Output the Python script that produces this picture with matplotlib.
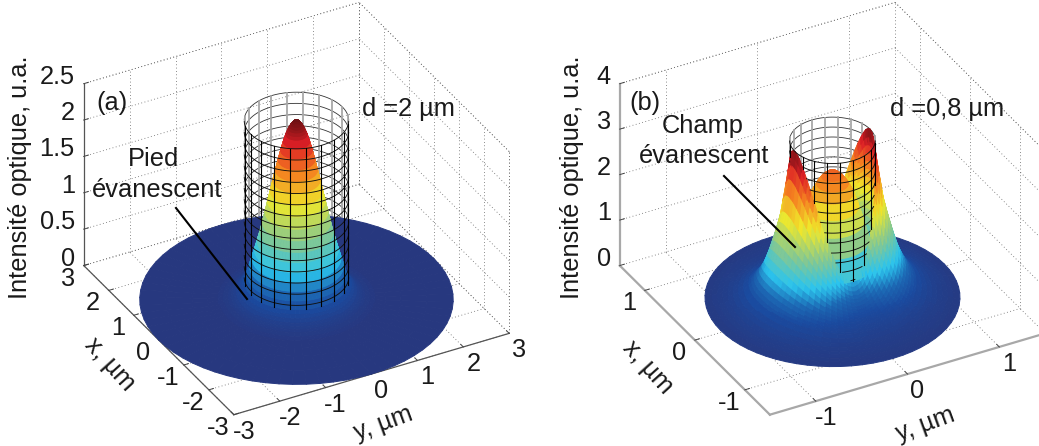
import numpy as np
import matplotlib
matplotlib.use('Agg')
import matplotlib.pyplot as plt
from matplotlib.colors import LinearSegmentedColormap
from matplotlib.lines import Line2D
from mpl_toolkits.mplot3d import proj3d

plt.rcParams['font.family'] = ['Liberation Sans', 'DejaVu Sans']

W, H = 1039, 446

# panel (a): radial profile
r_a = [0, .025, .05, .075, .1, .125, .15, .175, .2, .25, .3, .35, .4, .45, .5, .55, .6, .65, .7, .75, .8, .85, .9, .95, 1.0,
       1.05, 1.1, 1.15, 1.2, 1.25, 1.3, 1.4, 1.5, 1.7, 2.0, 2.5, 3.0]
z_a = [2.46, 2.457, 2.45, 2.43, 2.41, 2.38, 2.35, 2.31, 2.27, 2.17, 2.05, 1.92, 1.78, 1.64, 1.49, 1.35, 1.20, 1.06, .92, .80, .68, .57, .46, .35, .25,
       .20, .16, .12, .09, .07, .05, .03, .015, 0, 0, 0, 0]
x_ticks_a = [-3, -2, -1, 0, 1, 2, 3]
y_ticks_a = [-3, -2, -1, 0, 1, 2, 3]
z_ticks_a = [0, .5, 1, 1.5, 2, 2.5]
z_labels_a = ['0', '0.5', '1', '1.5', '2', '2.5']

# panel (b): inside the guide, then the outer field along its ridge and its valley
r_in = [0, .05, .1, .15, .2, .25, .3, .35, .41]
z_in = [2.82, 2.79, 2.70, 2.55, 2.35, 2.05, 1.72, 1.32, .85]
r_out = [.41, .43, .45, .475, .5, .525, .55, .575, .6, .625, .65, .675, .7, .725, .75, .775, .8,
         .85, .9, .95, 1.0, 1.05, 1.1, 1.15, 1.22]
z_ridge = [3.5, 3.2, 2.9, 2.55, 2.2, 1.97, 1.75, 1.55, 1.35, 1.17, 1.0, .87, .75, .65, .55, .48, .42,
           .32, .25, .2, .16, .13, .1, .08, .05]
z_valley = [.85, .76, .68, .61, .55, .5, .45, .41, .37, .34, .31, .28, .26, .24, .22, .2, .19,
            .16, .13, .11, .09, .08, .07, .05, .04]
# share of the ridge height, every 5 degrees from the x axis to the y axis
lobe = [0, .01, .03, .07, .12, .18, .25, .33, .41, .5, .59, .67, .75, .82, .88, .93, .97, .99, 1]
x_ticks_b = [-1, 0, 1]
y_ticks_b = [-1, 0, 1]
z_ticks_b = [0, 1, 2, 3, 4]
z_labels_b = ['0', '1', '2', '3', '4']

cmap_pos = [0, .1, .18, .27, .42, .6, .76, .9, 1]
cmap_col = ['#27387f', '#1a4a9f', '#1c6ab5', '#2bc4ee', '#86c890', '#f0e92b', '#f58220', '#dd1f26', '#6f1114']
jet_print = LinearSegmentedColormap.from_list('jet_print', list(zip(cmap_pos, cmap_col)))


def make_axes(cx, cy, lim, zmax):
    side = 479
    ax = fig.add_axes([(cx - side / 2) / W, (H - cy - side / 2) / H, side / W, side / H],
                      projection='3d', proj_type='ortho')
    ax.patch.set_alpha(0)
    ax.set_axis_off()
    ax.computed_zorder = False
    ax.autoscale(False)
    ax.set_xlim(lim, -lim)
    ax.set_ylim(-lim, lim)
    ax.set_zlim(0, zmax)
    ax.set_box_aspect((1, 1, .69))
    ax.view_init(elev=32.8, azim=-28.6, roll=0)
    return ax


def put(ax, x, y, z, txt, dx, dy, ha='center'):
    px, py, _ = proj3d.proj_transform(x, y, z, ax.get_proj())
    ax.annotate(txt, (px, py), xytext=(dx, dy), textcoords='offset pixels', ha=ha, va='center',
                annotation_clip=False, fontsize=18.3, color='#1a1a1a')


def draw_box(ax, lim, zmax, xt, yt, zt, zl, axis_col, axis_lw):
    dot = dict(color='#666666', lw=.6, ls=(0, (1, 3)), zorder=1)
    for x in xt:
        ax.plot([x, x], [-lim, lim], [0, 0], **dot)
        ax.plot([x, x], [lim, lim], [0, zmax], **dot)
    for y in yt:
        ax.plot([-lim, lim], [y, y], [0, 0], **dot)
        ax.plot([lim, lim], [y, y], [0, zmax], **dot)
    for z in zt:
        ax.plot([lim, lim], [-lim, lim], [z, z], **dot)
        ax.plot([-lim, lim], [lim, lim], [z, z], **dot)
    ax.plot([lim, lim], [lim, lim], [0, zmax], **dot)
    ax.plot([-lim, -lim], [lim, lim], [0, zmax], **dot)
    ax.plot([lim, lim], [-lim, lim], [zmax, zmax], **dot)
    ax.plot([-lim, lim], [lim, lim], [zmax, zmax], **dot)

    solid = dict(color=axis_col, lw=axis_lw, zorder=1.5)
    ax.plot([lim, lim], [-lim, -lim], [0, zmax], **solid)
    ax.plot([-lim, lim], [-lim, -lim], [0, 0], **solid)
    ax.plot([-lim, -lim], [-lim, lim], [0, 0], **solid)
    tick = lim / 30
    thin = dict(color='#444444', lw=.7, zorder=1.5)
    for x in xt:
        ax.plot([x, x], [-lim, -lim + tick], [0, 0], **thin)
        put(ax, x, -lim, 0, str(x), -16, -13)
    for y in yt:
        ax.plot([-lim, -lim + tick], [y, y], [0, 0], **thin)
        put(ax, -lim, y, 0, str(y), 10, -17)
    for z, lab in zip(zt, zl):
        ax.plot([lim, lim], [-lim, -lim + tick], [z, z], **thin)
        put(ax, lim, -lim, z, lab, -9, 7, ha='right')


def draw_surface(ax, X, Y, Z, zmax):
    zm = (Z[:-1, :-1] + Z[1:, :-1] + Z[:-1, 1:] + Z[1:, 1:]) / 4
    ax.plot_surface(X, Y, Z, rstride=1, cstride=1, facecolors=jet_print(zm / zmax), shade=False,
                    linewidth=.7, antialiased=True, zorder=3)


def draw_cage(ax, radius, top, floor_of):
    # floor_of gives the height of the surface on the cage wall, per angle
    phi = np.radians(np.arange(0, 361, 3))
    back_dir = np.array([.88, .47])
    seen_back = np.cos(phi) * back_dir[0] + np.sin(phi) * back_dir[1] >= 0
    floor = floor_of(phi)
    for z in np.linspace(0, top, 17):
        zz = np.where(z >= floor - .01, z, np.nan)
        ax.plot(radius * np.cos(phi), radius * np.sin(phi), np.where(seen_back, zz, np.nan),
                color='#333333', lw=.6, zorder=2)
        ax.plot(radius * np.cos(phi), radius * np.sin(phi), np.where(seen_back, np.nan, zz),
                color='#111111', lw=.65, zorder=4)
    for deg in np.arange(0, 360, 18):
        p = np.radians(deg)
        back = np.cos(p) * back_dir[0] + np.sin(p) * back_dir[1] >= 0
        z0 = float(floor_of(np.array([p]))[0])
        if back:
            ax.plot([radius * np.cos(p)] * 2, [radius * np.sin(p)] * 2, [z0, top],
                    color='#a8a8a8', lw=1.3, zorder=2)
        else:
            ax.plot([radius * np.cos(p)] * 2, [radius * np.sin(p)] * 2, [z0, top],
                    color='#000000', lw=.8, zorder=4)


fig = plt.figure(figsize=(W / 100, H / 100), dpi=100)

# (a)
ax_a = make_axes(290, 215, 3, 2.5)
draw_box(ax_a, 3, 2.5, x_ticks_a, y_ticks_a, z_ticks_a, z_labels_a, '#555555', .9)
theta = np.radians(np.arange(0, 361, 5))
R, T = np.meshgrid(np.array(r_a), theta, indexing='ij')
Z_a = np.array(z_a)[:, None] * np.ones_like(T)
draw_surface(ax_a, R * np.cos(T), R * np.sin(T), Z_a, 2.46)
z_at_wall = z_a[r_a.index(1.0)]
draw_cage(ax_a, 1.0, 2.46, lambda p: np.full_like(p, z_at_wall))

# (b)
ax_b = make_axes(826, 215, 1.5, 4)
draw_box(ax_b, 1.5, 4, x_ticks_b, y_ticks_b, z_ticks_b, z_labels_b, '#a8a8a8', 1.6)
half = lobe + lobe[-2:0:-1]
weight = np.array(half + half + [half[0]])
inner = np.array(z_in)[:, None] * np.ones((1, len(theta)))
outer = np.array(z_valley)[:, None] + (np.array(z_ridge) - np.array(z_valley))[:, None] * weight[None, :]
steps = np.linspace(0, 1, 16)[1:-1, None]
wall = inner[-1][None, :] + steps * (outer[0] - inner[-1])[None, :]
Z_b = np.vstack([inner, wall, outer])
r_all = np.array(r_in + [r_in[-1]] * len(steps) + r_out)
R, T = np.meshgrid(r_all, theta, indexing='ij')
draw_surface(ax_b, R * np.cos(T), R * np.sin(T), Z_b, 3.5)


def wall_height(p):
    deg = np.degrees(p) % 360
    return np.interp(deg, np.arange(0, 361, 5), outer[0])


draw_cage(ax_b, .41, 3.5, wall_height)

# texts and leader lines, in picture pixels
def label(x, y, txt, **kw):
    fig.text(x / W, 1 - y / H, txt, fontsize=18.3, color='#1a1a1a', ha='center', va='center', **kw)


def leader(x0, y0, x1, y1):
    fig.add_artist(Line2D([x0 / W, x1 / W], [1 - y0 / H, 1 - y1 / H], color='black', lw=1.5,
                          transform=fig.transFigure))


label(20, 177, 'Intensité optique, u.a.', rotation=90)
label(112, 103, '(a)')
label(408, 109, 'd =2 µm')
label(153, 159, 'Pied')
label(157, 190, 'évanescent')
label(110, 364, 'x, µm', rotation=-48)
label(383, 423, 'y, µm', rotation=20)
leader(176, 208, 247, 299)

label(572, 177, 'Intensité optique, u.a.', rotation=90)
label(645, 103, '(b)')
label(947, 109, 'd =0,8 µm')
label(703, 126, 'Champ')
label(704, 156, 'évanescent')
label(648, 367, 'x, µm', rotation=-48)
label(925, 424, 'y, µm', rotation=20)
leader(724, 176, 795, 247)

fig.savefig('out.png', dpi=100)
